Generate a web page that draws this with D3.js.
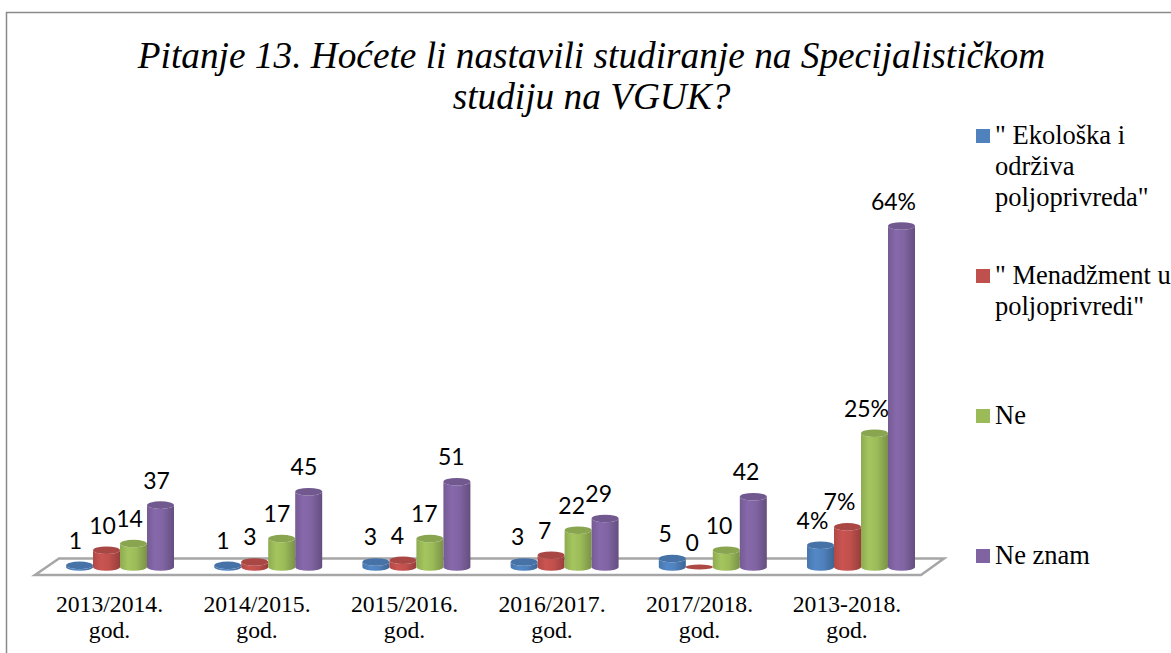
<!DOCTYPE html>
<html><head><meta charset="utf-8">
<script src="https://cdn.jsdelivr.net/npm/d3@7/dist/d3.min.js"></script>
<style>html,body{margin:0;padding:0;background:#fff;overflow:hidden}</style>
</head><body><svg id="c" width="1171" height="653" style="display:block;font-family:'Liberation Serif'"></svg>
<script>
const titleLines = ["Pitanje 13. Hoćete li nastavili studiranje na Specijalističkom", "studiju na VGUK?"];
const categories = ["2013/2014.", "2014/2015.", "2015/2016.", "2016/2017.", "2017/2018.", "2013-2018."];
const categorySuffix = "god.";
const seriesNames = ['" Ekološka i|održiva|poljoprivreda"', '" Menadžment u|poljoprivredi"', 'Ne', 'Ne znam'];
const colors = ["#4f81bd", "#c0504d", "#9bbb59", "#8064a2"];
const ekoloska  = [1, 1, 3, 3, 5, 13];
const menadzment = [10, 3, 4, 7, 0, 24];
const ne = [14, 17, 17, 22, 10, 80];
const neZnam = [37, 45, 51, 29, 42, 204];
const ekoloskaLabels = ["1", "1", "3", "3", "5", "4%"];
const menadzmentLabels = ["10", "3", "4", "7", "0", "7%"];
const neLabels = ["14", "17", "17", "22", "10", "25%"];
const neZnamLabels = ["37", "45", "51", "29", "42", "64%"];

const SERIF = "'Liberation Serif'";
const series = [ekoloska, menadzment, ne, neZnam];
const seriesLabels = [ekoloskaLabels, menadzmentLabels, neLabels, neZnamLabels];
const svg = d3.select("#c");
const defs = svg.append("defs");
colors.forEach((c, i) => {
  const base = d3.color(c);
  const g = defs.append("linearGradient").attr("id", "g" + i);
  [[0, base.darker(0.25)], [0.3, base.brighter(0.15)], [0.6, base], [0.9, base.darker(0.5)], [1, base.darker(0.7)]]
    .forEach(([o, col]) => g.append("stop").attr("offset", o).attr("stop-color", col));
});

// frame
svg.append("path").attr("d", "M6.5,653V12.5H1171").attr("fill", "none").attr("stroke", "#8a8a8a").attr("stroke-width", 1.5);

// title
svg.append("g").selectAll("text").data(titleLines).join("text")
  .style("font-family", SERIF).style("font-style", "italic").style("font-size", "37.3px")
  .attr("text-anchor", "middle").attr("fill", "#000")
  .attr("x", 591.5).attr("y", (d, i) => 68 + i * 41).text(d => d);

// scales
const x0 = d3.scaleBand().domain(categories).range([66, 66 + 148.2 * 6]).paddingInner(0).paddingOuter(0);
const y = d3.scaleLinear().domain([0, 204]).range([567, 226]);
const barW = 27;
const x1 = d3.scaleBand().domain(d3.range(4)).range([0, barW * 4]);
const labelX0 = d3.scaleBand().domain(categories).range([62, 62 + 147.4 * 6]);
const axisX = d3.scalePoint().domain(categories).range([109, 109 + 147.5 * 5]);

// floor
const floor = d3.path();
floor.moveTo(35, 575); floor.lineTo(59, 558.5); floor.lineTo(944, 558.5); floor.lineTo(921, 575); floor.closePath();
svg.append("path").attr("d", floor.toString()).attr("fill", "#fff").attr("stroke", "#a6a6a6").attr("stroke-width", 2.5);

// bars
const rx = barW / 2, ry = 3.8;
const cells = [];
series.forEach((vals, s) => vals.forEach((v, i) => cells.push({s, i, v, lab: seriesLabels[s][i]})));
const gBars = svg.append("g");
const cell = gBars.selectAll("g").data(cells).join("g");
cell.append("path")
  .attr("d", d => {
    const l = x0(categories[d.i]) + x1(d.s), r = l + barW, t = y(d.v), b = y(0);
    return `M${l},${t}V${b}A${rx},${ry} 0 0 0 ${r},${b}V${t}A${rx},${ry} 0 0 1 ${l},${t}Z`;
  })
  .attr("fill", d => `url(#g${d.s})`);
cell.append("ellipse")
  .attr("cx", d => x0(categories[d.i]) + x1(d.s) + rx)
  .attr("cy", d => y(d.v))
  .attr("rx", rx).attr("ry", d => d.v === 0 ? 2.5 : ry)
  .attr("fill", d => d3.color(colors[d.s]).darker(d.v === 0 ? 0.3 : 0.35));

// data labels
svg.append("g").selectAll("text").data(cells).join("text")
  .attr("x", d => labelX0(categories[d.i]) + x1(d.s) + rx)
  .attr("y", d => y(d.v) - 16.5)
  .attr("text-anchor", "middle").style("font-family", "Lato").style("font-size", "23px").attr("fill", "#000")
  .text(d => d.lab);

// category axis
const ax = svg.append("g").attr("transform", "translate(0,590)").call(d3.axisBottom(axisX).tickSize(0));
ax.attr("font-family", null).attr("font-size", null);
ax.select(".domain").remove();
ax.selectAll(".tick").each(function() {
  const t = d3.select(this);
  t.select("text").attr("dy", null).attr("y", 22).style("font-family", SERIF).style("font-size", "23.7px").attr("fill", "#000");
  t.append("text").attr("text-anchor", "middle").attr("y", 48).style("font-family", SERIF).style("font-size", "23.7px").attr("fill", "#000").text(categorySuffix);
});

// legend
const legendY = [129, 269, 409, 549];
const legendRows = seriesNames.flatMap((d, i) => d.split("|").map((l, k) => ({l, i, k})));
svg.append("g").selectAll("rect").data(seriesNames).join("rect")
  .attr("x", 976).attr("y", (d, i) => legendY[i]).attr("width", 14).attr("height", 14).attr("fill", (d, i) => colors[i]);
svg.append("g").selectAll("text").data(legendRows).join("text")
  .style("font-family", SERIF).style("font-size", "26.5px").attr("fill", "#000")
  .attr("x", 995).attr("y", d => legendY[d.i] + 15 + d.k * 31).text(d => d.l);
</script></body></html>
